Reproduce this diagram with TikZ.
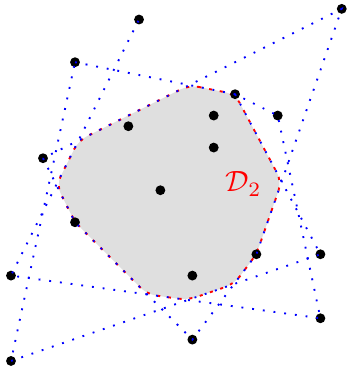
\documentclass[tikz,border=0pt]{standalone}
\usepackage{amsmath}
\usepackage{amsfonts}
\usepackage{tikz}

\begin{document}
\begin{tikzpicture}[x=0.16cm,y=0.16cm,
  link/.style={blue,line width=0.8pt,dash pattern=on 0.8pt off 3.8pt},
  cell/.style={fill=gray!25,draw=red,line width=0.8pt,dash pattern=on 1.3pt off 3.3pt,rounded corners=4pt}]
  \useasboundingbox (-1.03,-0.66) rectangle (31.49,33.83);
  % sample points
  \foreach \n/\x/\y in {a/12/32,b/31/33,c/6/28,d/21/25,e/25/23,f/11/22,g/19/23,h/19/20,i/3/19,
    j/14/16,k/6/13,l/23/10,m/29/10,n/17/8,o/0/8,p/29/4,q/17/2,r/0/0}
    \coordinate (\n) at (\x,\y);
  % corners of the cell
  \coordinate (t1) at (intersection of c--d and i--b);
  \coordinate (t2) at (intersection of d--m and b--l);
  \coordinate (t3) at (intersection of l--q and m--r);
  \coordinate (t4) at (intersection of m--r and o--p);
  \coordinate (t5) at (intersection of o--p and q--k);
  \coordinate (t6) at (intersection of i--k and o--a);
  \coordinate (t7) at (intersection of o--a and i--b);
  \path[cell] (t1) -- (d) -- (t2) -- (l) -- (t3) -- (t4) -- (t5) -- (k) -- (t6) -- (t7) -- cycle;
  \foreach \n in {a,...,r} \fill (\n) circle (2.1pt);
  \draw[link] (c) -- (d) -- (e) -- (p) -- (o) -- (a);
  \draw[link] (d) -- (m) -- (r) -- (c);
  \draw[link] (i) -- (k) -- (q) -- (l) -- (b) -- cycle;
  \node[red,scale=1.25] (lbl) at (21.8,16.6) {$\mathcal{D}_2$};
\end{tikzpicture}
\end{document}
